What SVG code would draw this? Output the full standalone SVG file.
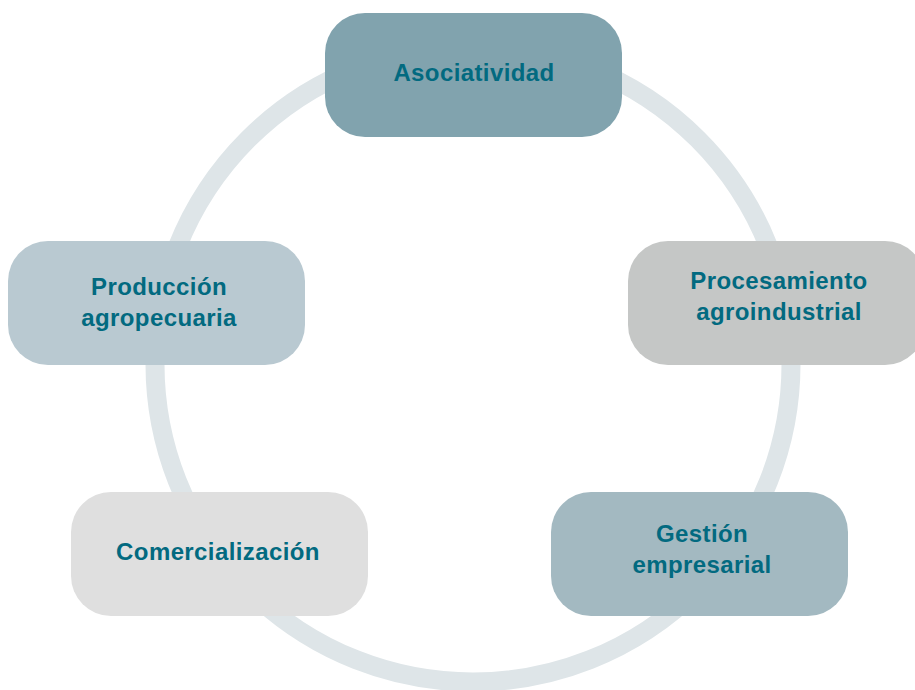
<svg xmlns="http://www.w3.org/2000/svg" width="915" height="690" viewBox="0 0 915 690">
  <style>
    .ring { fill: none; stroke: #dee5e8; stroke-width: 19; }
    .box { stroke: none; }
    .lbl { font-family: "Liberation Sans", Arial, Helvetica, sans-serif; font-weight: bold; font-size: 24px; letter-spacing: 0.4px; fill: #026a80; text-anchor: middle; }
  </style>
  <rect x="0" y="0" width="915" height="690" fill="#ffffff"/>
  <g id="connectors">
    <circle class="ring" cx="473" cy="364" r="318"/>
  </g>
  <g id="asociatividad">
    <rect class="box" x="325" y="13" width="297" height="124" rx="40" fill="#81a3ae"/>
    <text class="lbl" x="474" y="81">Asociatividad</text>
  </g>
  <g id="procesamiento">
    <rect class="box" x="628" y="241" width="297" height="124" rx="40" fill="#c5c7c6"/>
    <text class="lbl" x="779" y="289">Procesamiento</text>
    <text class="lbl" x="779" y="320">agroindustrial</text>
  </g>
  <g id="produccion">
    <rect class="box" x="8" y="241" width="297" height="124" rx="40" fill="#b9c9d1"/>
    <text class="lbl" x="159" y="295">Producción</text>
    <text class="lbl" x="159" y="326">agropecuaria</text>
  </g>
  <g id="comercializacion">
    <rect class="box" x="71" y="492" width="297" height="124" rx="40" fill="#dfdfdf"/>
    <text class="lbl" x="218" y="560">Comercialización</text>
  </g>
  <g id="gestion">
    <rect class="box" x="551" y="492" width="297" height="124" rx="40" fill="#a3b9c1"/>
    <text class="lbl" x="702" y="542">Gestión</text>
    <text class="lbl" x="702" y="573">empresarial</text>
  </g>
</svg>
